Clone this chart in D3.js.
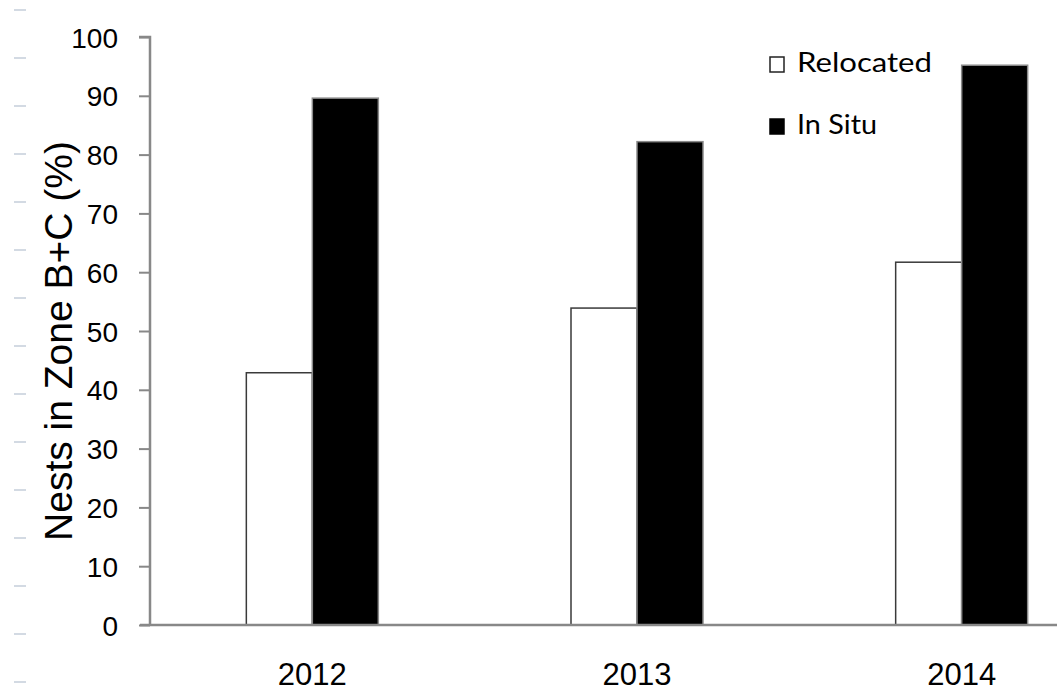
<!DOCTYPE html>
<html>
<head>
<meta charset="utf-8">
<script src="https://cdn.jsdelivr.net/npm/d3@7"></script>
<style>
  html, body { margin: 0; padding: 0; background: #fff; }
  svg { display: block; }
</style>
</head>
<body>
<svg id="chart" width="1057" height="695"></svg>
<script>
const years = ["2012", "2013", "2014"];
const seriesNames = ["Relocated", "In Situ"];
const relocated = [42.9, 53.9, 61.7];
const inSitu = [89.6, 82.2, 95.2];
const yTicks = [0, 10, 20, 30, 40, 50, 60, 70, 80, 90, 100];
const yTitle = "Nests in Zone B+C (%)";

const seriesValues = [relocated, inSitu];
const fills = ["#ffffff", "#000000"];
const strokes = ["#3a3a3a", "#8a8a8a"];

const svg = d3.select("#chart");

// faint dashes at the left edge (artifact in reference)
svg.append("g").selectAll("line")
  .data(d3.range(10, 690, 48))
  .join("line")
  .attr("x1", 14).attr("x2", 26)
  .attr("y1", d => d).attr("y2", d => d)
  .attr("stroke", "#d3dae3").attr("stroke-width", 2);

const y = d3.scaleLinear().domain([0, 100]).range([625, 37]);
const x0 = d3.scaleBand().domain(years).range([150, 1124]);
const x1 = d3.scaleBand().domain(seriesNames).range([0, 132]);

// bars
seriesNames.forEach((s, si) => {
  svg.append("g").selectAll("rect")
    .data(years.map((yr, i) => ({ yr, v: seriesValues[si][i] })))
    .join("rect")
    .attr("x", d => x0(d.yr) + x0.bandwidth() / 2 - 66 + x1(s))
    .attr("width", x1.bandwidth())
    .attr("y", d => y(d.v))
    .attr("height", d => y(0) - y(d.v))
    .attr("fill", fills[si])
    .attr("stroke", strokes[si])
    .attr("stroke-width", 1.5);
});

// y axis
const yAxis = d3.axisLeft(y).tickValues(yTicks).tickSize(11).tickPadding(21).tickFormat(d3.format("d"));
const gy = svg.append("g").attr("transform", "translate(150,0)").call(yAxis);
gy.select(".domain").attr("stroke", "#888").attr("stroke-width", 2.5).attr("d", "M-11,37H0V625");
gy.selectAll(".tick line").attr("stroke", "#888").attr("stroke-width", 2);
gy.selectAll(".tick text")
  .attr("font-family", "Liberation Sans, Arial, sans-serif")
  .attr("font-size", 28)
  .attr("fill", "#000")
  .attr("dy", "0.36em");

// x axis
const xAxis = d3.axisBottom(x0).tickSize(0).tickPadding(38);
const gx = svg.append("g").attr("transform", "translate(0,625)").call(xAxis);
gx.select(".domain").attr("stroke", "#888").attr("stroke-width", 2.5).attr("d", "M140,0H1124");
gx.selectAll(".tick text")
  .attr("font-family", "Liberation Sans, Arial, sans-serif")
  .attr("font-size", 31)
  .attr("fill", "#000")
  .attr("dy", "0.71em");

// y title
svg.append("text")
  .attr("transform", "translate(72,341) rotate(-90)")
  .attr("text-anchor", "middle")
  .attr("font-family", "Liberation Sans, Arial, sans-serif")
  .attr("font-size", 39)
  .attr("fill", "#000")
  .text(yTitle);

// legend
const legend = svg.append("g");
const legendRows = seriesNames.map((s, i) => ({ s, i }));
const lg = legend.selectAll("g").data(legendRows).join("g")
  .attr("transform", d => `translate(770,${d.i === 0 ? 57 : 119})`);
lg.append("rect")
  .attr("width", 14).attr("height", 15)
  .attr("fill", d => fills[d.i])
  .attr("stroke", d => d.i === 0 ? "#222" : "#000")
  .attr("stroke-width", 1.5);
lg.append("text")
  .attr("x", 27).attr("y", 15)
  .attr("font-family", "Lato, 'Open Sans', sans-serif")
  .attr("font-size", 27)
  .attr("fill", "#000")
  .attr("textLength", d => d.i === 0 ? 135 : 80)
  .attr("lengthAdjust", "spacingAndGlyphs")
  .text(d => d.s);
</script>
</body>
</html>
